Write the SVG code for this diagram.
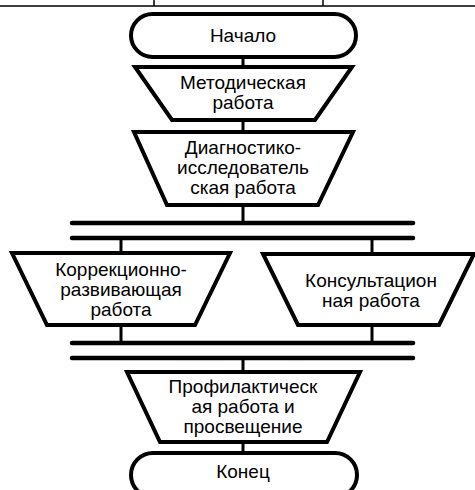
<svg xmlns="http://www.w3.org/2000/svg" width="475" height="490" viewBox="0 0 475 490">
<style>
.s{fill:#fff;stroke:#000;stroke-width:4;stroke-linejoin:miter}
.t{font-family:"Liberation Sans",Arial,sans-serif;font-size:19px;fill:#000;text-anchor:middle}
.c{stroke:#000;stroke-width:3;fill:none}
.b{stroke:#000;stroke-width:4.5;stroke-linecap:round;fill:none}
.f{stroke:#000;stroke-width:1.5;fill:none}
</style>
<rect width="475" height="490" fill="#fff"/>
<g id="frame">
<line class="f" x1="0" y1="6" x2="475" y2="6"/>
<line class="f" x1="154" y1="0" x2="154" y2="6"/>
<line class="f" x1="323" y1="0" x2="323" y2="6"/>
</g>
<g id="connectors">
<line class="c" x1="243" y1="57" x2="243" y2="67"/>
<line class="c" x1="243" y1="120" x2="243" y2="132"/>
<line class="c" x1="243" y1="205" x2="243" y2="223"/>
<line class="b" x1="72" y1="223" x2="413" y2="223"/>
<line class="b" x1="72" y1="238" x2="413" y2="238"/>
<line class="c" x1="121" y1="238" x2="121" y2="253"/>
<line class="c" x1="372" y1="238" x2="372" y2="254"/>
<line class="c" x1="121" y1="325" x2="121" y2="343"/>
<line class="c" x1="372" y1="325" x2="372" y2="343"/>
<line class="b" x1="72" y1="343" x2="413" y2="343"/>
<line class="b" x1="72" y1="358" x2="413" y2="358"/>
<line class="c" x1="243" y1="358" x2="243" y2="372"/>
<line class="c" x1="243" y1="442" x2="243" y2="453"/>
</g>
<g id="start">
<rect class="s" x="131" y="14" width="225" height="43" rx="21.5"/>
<text class="t" x="243" y="42">Начало</text>
</g>
<g id="method">
<polygon class="s" points="135,67 352,67 315,120 172,120"/>
<text class="t" x="243" y="89">Методическая</text>
<text class="t" x="243" y="109">работа</text>
</g>
<g id="diag">
<polygon class="s" points="134,132 353,132 318,205 167,205"/>
<text class="t" x="243" y="154">Диагностико-</text>
<text class="t" x="243" y="174">исследователь</text>
<text class="t" x="243" y="194">ская работа</text>
</g>
<g id="correct">
<polygon class="s" points="12,253 230,253 195,325 47,325"/>
<text class="t" x="121" y="276">Коррекционно-</text>
<text class="t" x="121" y="296">развивающая</text>
<text class="t" x="121" y="316">работа</text>
</g>
<g id="consult">
<polygon class="s" points="263,254 474,254 439,325 298,325"/>
<text class="t" x="371" y="287">Консультацион</text>
<text class="t" x="371" y="307">ная работа</text>
</g>
<g id="prof">
<polygon class="s" points="127,372 360,372 327,442 160,442"/>
<text class="t" x="243" y="393">Профилактическ</text>
<text class="t" x="243" y="413">ая работа и</text>
<text class="t" x="243" y="433">просвещение</text>
</g>
<g id="end">
<rect class="s" x="131" y="453" width="226" height="44" rx="22"/>
<text class="t" x="243" y="478">Конец</text>
</g>
</svg>
